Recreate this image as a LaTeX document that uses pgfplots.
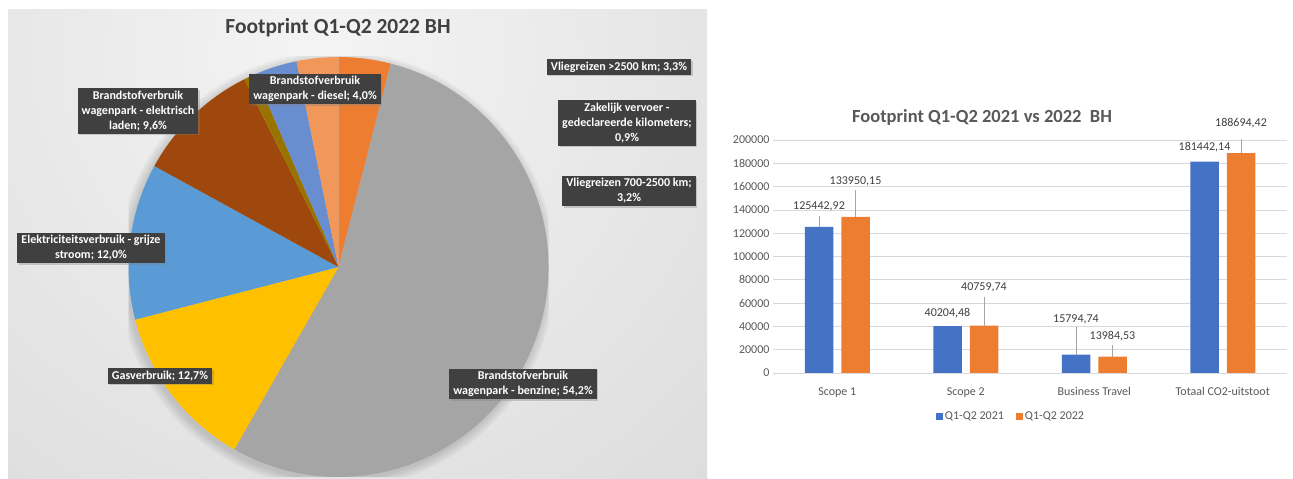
\documentclass[border=0pt]{standalone}
\usepackage{pgfplots}
\pgfplotsset{compat=1.18}
\usepackage{pgfplotstable}
\usepackage{fontspec}
\setmainfont{Carlito}
\usetikzlibrary{shadows}

\definecolor{cBlue}{HTML}{4472C4}
\definecolor{cOrange}{HTML}{ED7D31}
\definecolor{cGray}{HTML}{A5A5A5}
\definecolor{cGold}{HTML}{FFC000}
\definecolor{cLBlue}{HTML}{5B9BD5}
\definecolor{cBrown}{HTML}{9E480E}
\definecolor{cOlive}{HTML}{997300}
\definecolor{cMBlue}{HTML}{698ED0}
\definecolor{cLOrange}{HTML}{F1975A}
\definecolor{txt}{HTML}{595959}
\definecolor{dtxt}{HTML}{404040}
\definecolor{gridc}{HTML}{D9D9D9}
\definecolor{leader}{HTML}{A6A6A6}
\definecolor{bgin}{HTML}{F4F4F4}
\definecolor{bgout}{HTML}{C4C4C4}
\definecolor{boxc}{HTML}{404040}
\pgfdeclareradialshading{bgshade}{\pgfpoint{0bp}{0bp}}{color(0bp)=(bgin); color(50bp)=(bgout)}

% bar chart data: values, leader lengths (data units), label offsets (pt), label texts
\pgfplotstableread{
x  y21        y22        e21   e22   o21  o22  l21        l22
0  125442.92  133950.15  9400  22900 20.2 36.0 125442,92  133950,15
1  40204.48   40759.74   0     24300 13.2 38.2 40204,48   40759,74
2  15794.74   13984.53   23700 10000 35.6 20.7 15794,74   13984,53
3  181442.14  188694.42  0     15450 14.3 29.9 181442,14  188694,42
}\bardata

% pie data (percent / colour), clockwise from 12 o'clock
\newcommand\piedata{4.0/cOrange, 54.2/cGray, 12.7/cGold, 12.0/cLBlue, 9.6/cBrown, 0.9/cOlive, 3.3/cMBlue, 3.2/cLOrange}

\tikzset{plabel/.style={fill=boxc, text=white, font=\fontsize{12}{15}\selectfont\bfseries,
  inner xsep=4pt, inner ysep=2.5pt, align=center,
  drop shadow={shadow xshift=1.5pt, shadow yshift=-1.5pt, opacity=0.35}}}

\begin{document}
\begin{tikzpicture}[x=1pt,y=1pt]
\useasboundingbox (0pt,0pt) rectangle (1293pt,479pt);
\fill[white] (0pt,0pt) rectangle (1293pt,479pt);

% left panel background
\begin{scope}
\clip (8pt,0pt) rectangle (707pt,469pt);
\shade[shading=bgshade] (320pt,425pt) circle (600pt);
\end{scope}

% ---------- pie ----------
\begin{axis}[at={(338.5pt,212pt)}, anchor=center, scale only axis,
  width=420pt, height=420pt, xmin=-1, xmax=1, ymin=-1, ymax=1, hide axis]
\foreach \r in {211,213,215,217,219} {
  \edef\doshadow{\noexpand\fill[black, opacity=0.03] (axis cs:0,0) ++(-2pt,-3pt) circle[radius=\r pt];}
  \doshadow
}
\gdef\cum{0}
\foreach \v/\c in \piedata {
  \pgfmathsetmacro\sa{90-\cum/99.9*360}
  \pgfmathsetmacro\ea{90-(\cum+\v)/99.9*360}
  \edef\doslice{\noexpand\fill[\c] (axis cs:0,0) -- ++(\sa:210pt) arc[start angle=\sa, end angle=\ea, radius=210pt] -- cycle;}
  \doslice
  \pgfmathsetmacro\newcum{\cum+\v}
  \xdef\cum{\newcum}
}
\end{axis}

\node[font=\fontsize{21.5}{24}\selectfont\bfseries, text=dtxt] at (338pt,451pt) {Footprint Q1-Q2 2022 BH};

\node[plabel] at (138pt,368pt) {Brandstofverbruik\\wagenpark - elektrisch\\laden; 9,6\%};
\node[plabel] at (315pt,390pt) {Brandstofverbruik\\wagenpark - diesel; 4,0\%};
\node[plabel] at (619pt,412pt) {Vliegreizen >2500 km; 3,3\%};
\node[plabel] at (627pt,356pt) {Zakelijk vervoer -\\gedeclareerde kilometers;\\0,9\%};
\node[plabel] at (629pt,288pt) {Vliegreizen 700-2500 km;\\3,2\%};
\node[plabel] at (91pt,231pt) {Elektriciteitsverbruik - grijze\\stroom; 12,0\%};
\node[plabel] at (160pt,103pt) {Gasverbruik; 12,7\%};
\node[plabel] at (523pt,95pt) {Brandstofverbruik\\wagenpark - benzine; 54,2\%};

% ---------- bar chart ----------
\node[font=\fontsize{18.5}{22}\selectfont\bfseries, text=txt] at (982pt,362pt) {Footprint Q1-Q2 2021 vs 2022~~BH};

\begin{axis}[at={(773pt,106pt)}, anchor=south west, scale only axis,
  width=514pt, height=233pt,
  xmin=-0.5, xmax=3.5, ymin=0, ymax=200000,
  xtick={0,1,2,3}, xticklabels={Scope 1, Scope 2, Business Travel, Totaal CO2-uitstoot},
  ytick distance=20000, scaled y ticks=false,
  yticklabel style={/pgf/number format/.cd, fixed, 1000 sep={}},
  /pgf/number format/assume math mode=true,
  ymajorgrids, grid style={color=gridc, line width=0.75pt},
  axis x line=bottom, axis y line=left,
  x axis line style={color=gridc, line width=0.75pt, -},
  y axis line style={draw=none},
  major tick length=0pt,
  tick label style={font=\fontsize{12}{14}\selectfont, color=txt},
  xticklabel style={yshift=-11pt},
  ybar=8pt, bar width=28.5pt,
  legend style={at={(0.463,-0.185)}, anchor=center, draw=none, fill=none,
    legend columns=2, font=\fontsize{12}{14}\selectfont, text=txt,
    /tikz/every even column/.append style={column sep=10pt}},
]
\addplot[fill=cBlue, draw=none,
  legend image code/.code={\fill[cBlue] (0pt,-3.5pt) rectangle (7pt,3.5pt);},
  nodes near coords, point meta=explicit symbolic,
  visualization depends on={\thisrow{o21} \as \off},
  every node near coord/.append style={anchor=center, yshift=\off pt, font=\fontsize{12}{14}\selectfont, text=dtxt},
  error bars/.cd, y dir=plus, y explicit, error mark=none,
  error bar style={color=leader, line width=0.75pt}]
  table[x=x, y=y21, y error=e21, meta=l21] {\bardata};
\addlegendentry{Q1-Q2 2021}
\addplot[fill=cOrange, draw=none,
  legend image code/.code={\fill[cOrange] (0pt,-3.5pt) rectangle (7pt,3.5pt);},
  nodes near coords, point meta=explicit symbolic,
  visualization depends on={\thisrow{o22} \as \off},
  every node near coord/.append style={anchor=center, yshift=\off pt, font=\fontsize{12}{14}\selectfont, text=dtxt},
  error bars/.cd, y dir=plus, y explicit, error mark=none,
  error bar style={color=leader, line width=0.75pt}]
  table[x=x, y=y22, y error=e22, meta=l22] {\bardata};
\addlegendentry{Q1-Q2 2022}
\end{axis}
\end{tikzpicture}
\end{document}
